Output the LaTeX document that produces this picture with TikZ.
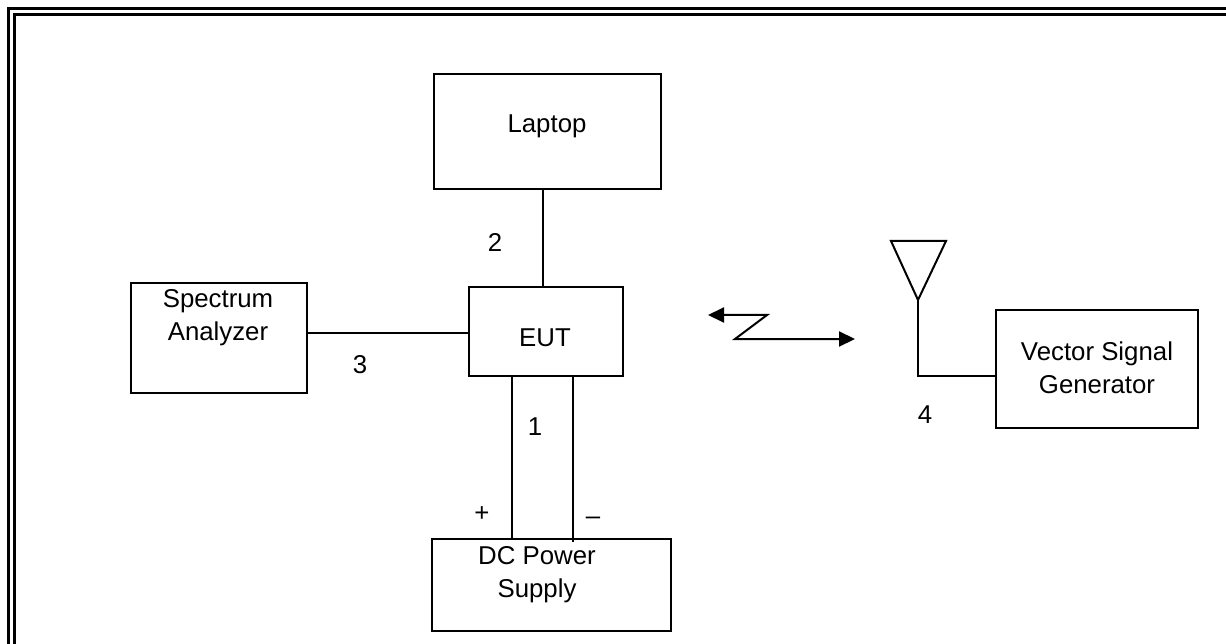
\documentclass[tikz,border=0pt]{standalone}
\usepackage{fontspec}
\setmainfont{Liberation Sans}
\usetikzlibrary{arrows.meta,calc}
\begin{document}
\begin{tikzpicture}[x=1pt,y=-1pt,
  box/.style={draw=black,line width=2pt,inner sep=0pt,fill=none},
  txt/.style={inner sep=0pt,anchor=base,font=\fontsize{25.8}{33}\selectfont},
  wire/.style={draw=black,line width=2pt},
  frameline/.style={draw=black,line width=3pt},
  twoway/.style={{Triangle[length=16pt,width=15pt]}-{Triangle[length=16pt,width=15pt]}}]
\useasboundingbox (0,0) rectangle (1226,644);
\clip (0,0) rectangle (1226,644);
% double frame (cut by the page at right and bottom)
\draw[frameline] (8.5,8.5) rectangle (1260,680);
\draw[frameline] (14.5,14.5) rectangle (1260,680);
% boxes
\node[box,minimum width=227pt,minimum height=115pt] (laptop) at (547.5,131.5) {};
\node[box,minimum width=154pt,minimum height=89pt] (eut) at (546,331.5) {};
\node[box,minimum width=176pt,minimum height=110pt] (sa) at (219,338) {};
\node[box,minimum width=239pt,minimum height=92pt] (dc) at (551.5,585) {};
\node[box,minimum width=202pt,minimum height=118pt] (vsg) at (1097,369) {};
% texts
\node[txt] (tlaptop) at (547,133) {Laptop};
\node[txt] (teut) at (545,346) {EUT};
\node[txt] (tsa1) at (218,308) {Spectrum};
\node[txt] (tsa2) at (218,341) {Analyzer};
\node[txt] (tdc1) at (537,564) {DC Power};
\node[txt] (tdc2) at (537,597) {Supply};
\node[txt] (tvsg1) at (1097,360) {Vector Signal};
\node[txt] (tvsg2) at (1097,393) {Generator};
\node[txt] (n2) at (495,252) {2};
\node[txt] (n3) at (360,373) {3};
\node[txt] (n1) at (535,435) {1};
\node[txt] (n4) at (925,423) {4};
\node[txt] (nplus) at (482,521) {+};
\node[txt] (nminus) at (593,524) {--};
% helper coordinates
\coordinate (lx) at (543,0);
\coordinate (sy) at (0,333);
\coordinate (px) at (512,0);
\coordinate (mx) at (573,0);
\coordinate (ay) at (0,376);
% connectors
\draw[wire] (laptop.south -| lx) -- (eut.north -| lx);
\draw[wire] (sa.east |- sy) -- (eut.west |- sy);
\draw[wire] (eut.south -| px) -- (dc.north -| px);
\draw[wire] (eut.south -| mx) -- ($(dc.north -| mx)+(0,4)$);
% antenna
\coordinate (ant) at (918,300);
\coordinate (antl) at (891,241);
\coordinate (antr) at (946,241);
\coordinate (antc) at (918,376);
\draw[wire,line join=miter] (ant) -- (antl) -- (antr) -- cycle;
\draw[wire] (ant) -- (antc) -- (vsg.west |- ay);
% wireless link
\coordinate (zl) at (708,315);
\coordinate (z1) at (767,315);
\coordinate (z2) at (735,339);
\coordinate (zr) at (855,339);
\draw[wire,twoway] (zl) -- (z1) -- (z2) -- (zr);
\end{tikzpicture}
\end{document}
